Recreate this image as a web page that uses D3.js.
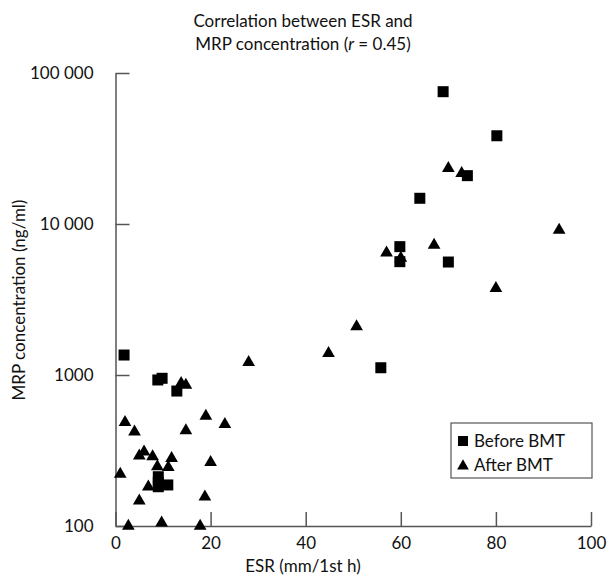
<!DOCTYPE html>
<html>
<head>
<meta charset="utf-8">
<script src="https://cdn.jsdelivr.net/npm/d3@7"></script>
<style>
  body { margin: 0; background: #fff; }
  svg text { font-family: Lato, "Noto Sans", sans-serif; fill: #111; }
</style>
</head>
<body>
<svg id="chart" width="610" height="580"></svg>
<script>
// ESR (mm/1st h) and MRP concentration (ng/ml)
const beforeESR = [1.8, 8.9, 9.8, 12.9, 9, 9, 9, 11, 55.8, 59.8, 59.8, 70, 68.9, 80.2, 74, 64];
const beforeMRP = [1356, 927, 951, 783, 212, 195, 182, 187, 1117, 7080, 5630, 5600, 75200, 38400, 20900, 14800];

const afterESR = [1, 2, 4, 2.7, 5, 6, 7.8, 11.8, 8.8, 11.1, 6.9, 5, 9.7, 17.8, 13.8, 14.8,
  14.8, 19, 23, 20, 18.8, 28, 44.8, 50.7, 57, 60, 67, 80, 93.3, 70, 72.8];
const afterMRP = [221, 486, 421, 100, 292, 310, 288, 281, 247, 245, 182, 147, 105, 100, 881, 859,
  428, 535, 471, 264, 156, 1214, 1393, 2089, 6450, 5950, 7260, 3750, 9120, 23400, 21650];

const xTicks = [0, 20, 40, 60, 80, 100];
const yTicks = [100, 1000, 10000, 100000];
const yTickLabels = ["100", "1000", "10 000", "100 000"];

const svg = d3.select("#chart");
const margin = { left: 115.5, right: 19, top: 73, bottom: 54 };
const W = 610, H = 580;

const x = d3.scaleLinear().domain([0, 100]).range([margin.left, W - margin.right]);
const y = d3.scaleLog().domain([100, 100000]).range([H - margin.bottom, margin.top]);

const axisColor = "#555";

// x axis, ticks pointing inward
const xAxis = svg.append("g")
  .attr("transform", `translate(0,${H - margin.bottom})`)
  .call(d3.axisBottom(x).tickValues(xTicks).tickSizeInner(-14).tickSizeOuter(0).tickPadding(20));
xAxis.select(".domain").attr("stroke", axisColor).attr("stroke-width", 1.5);
xAxis.selectAll(".tick line").attr("stroke", axisColor).attr("stroke-width", 1.5);
xAxis.selectAll(".tick text").style("font-size", "17px").attr("dy", "0.2em");

// y axis, ticks pointing inward
const yAxis = svg.append("g")
  .attr("transform", `translate(${margin.left},0)`)
  .call(d3.axisLeft(y).tickValues(yTicks).tickSizeInner(-14).tickSizeOuter(0).tickPadding(22)
    .tickFormat((d, i) => yTickLabels[i]));
yAxis.select(".domain").attr("stroke", axisColor).attr("stroke-width", 1.5);
yAxis.selectAll(".tick line").attr("stroke", axisColor).attr("stroke-width", 1.5);
yAxis.selectAll(".tick text").style("font-size", "17px");

// axis titles
svg.append("text")
  .attr("x", 303).attr("y", 572)
  .attr("text-anchor", "middle").style("font-size", "17px")
  .text("ESR (mm/1st h)");

svg.append("text")
  .attr("transform", "translate(25,300) rotate(-90)")
  .attr("text-anchor", "middle").style("font-size", "17px")
  .text("MRP concentration (ng/ml)");

// title
const title = svg.append("text").attr("text-anchor", "middle").style("font-size", "17px");
title.append("tspan").attr("x", 303).attr("y", 27).text("Correlation between ESR and");
const t2 = title.append("tspan").attr("x", 303).attr("y", 50);
t2.append("tspan").text("MRP concentration (");
t2.append("tspan").style("font-style", "italic").text("r");
t2.append("tspan").text(" = 0.45)");

// markers
const sq = 11;
const triPath = d3.symbol().type(d3.symbolTriangle).size(70);

const before = beforeESR.map((v, i) => ({ esr: v, mrp: beforeMRP[i] }));
const after = afterESR.map((v, i) => ({ esr: v, mrp: afterMRP[i] }));

svg.append("g").selectAll("rect")
  .data(before)
  .join("rect")
    .attr("x", d => x(d.esr) - sq / 2)
    .attr("y", d => y(d.mrp) - sq / 2)
    .attr("width", sq)
    .attr("height", sq)
    .attr("fill", "#000");

svg.append("g").selectAll("path")
  .data(after)
  .join("path")
    .attr("d", triPath)
    .attr("transform", d => `translate(${x(d.esr)},${y(d.mrp)})`)
    .attr("fill", "#000");

// legend
const legend = svg.append("g");
legend.append("rect")
  .attr("x", 451).attr("y", 423).attr("width", 141).attr("height", 55)
  .attr("fill", "#fff").attr("stroke", axisColor).attr("stroke-width", 1.2);
legend.append("rect")
  .attr("x", 458).attr("y", 436).attr("width", 10).attr("height", 10).attr("fill", "#000");
legend.append("path")
  .attr("d", d3.symbol().type(d3.symbolTriangle).size(60))
  .attr("transform", "translate(463,466)").attr("fill", "#000");
legend.append("text").attr("x", 474).attr("y", 447).style("font-size", "17px").text("Before BMT");
legend.append("text").attr("x", 474).attr("y", 471).style("font-size", "17px").text("After BMT");
</script>
</body>
</html>
